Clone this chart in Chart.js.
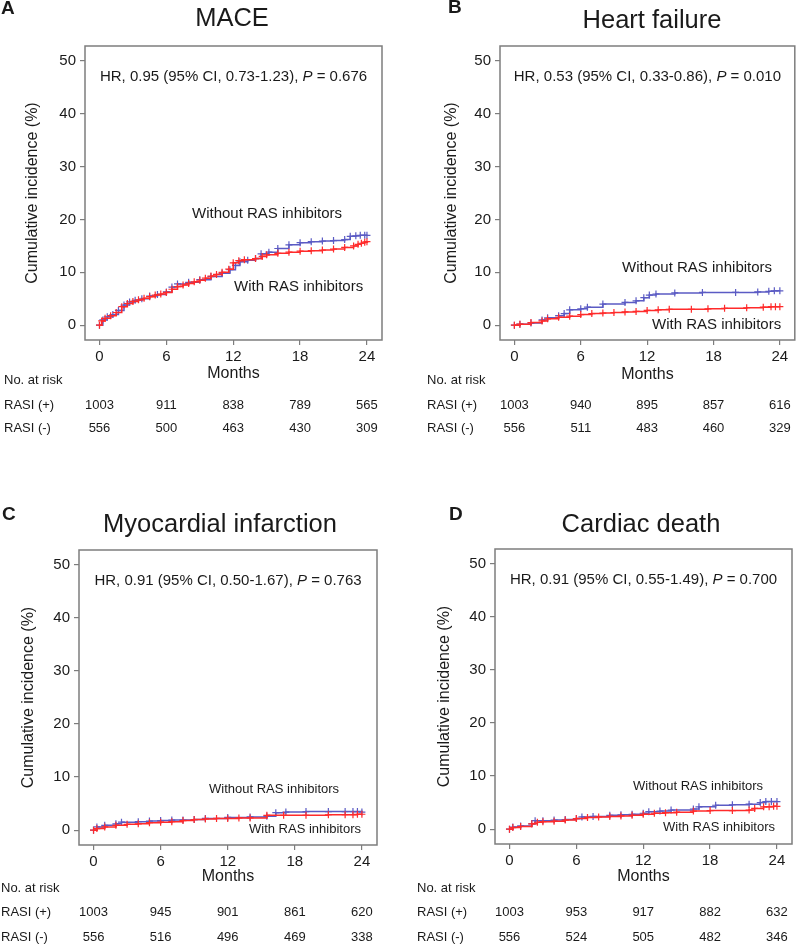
<!DOCTYPE html>
<html>
<head>
<meta charset="utf-8">
<script src="https://cdn.jsdelivr.net/npm/chart.js@4.4.0/dist/chart.umd.min.js"></script>
<style>
  body { margin: 0; background: #fff; width: 800px; height: 944px; position: relative; overflow: hidden; }
  canvas { position: absolute; }
</style>
</head>
<body>
<canvas id="cA" width="400" height="472" style="left:0;top:0"></canvas>
<canvas id="cB" width="400" height="472" style="left:400px;top:0"></canvas>
<canvas id="cC" width="400" height="472" style="left:0;top:472px"></canvas>
<canvas id="cD" width="400" height="472" style="left:400px;top:472px"></canvas>
<script>
// axes
const monthTicks = [0, 6, 12, 18, 24];
const pctTicks = [0, 10, 20, 30, 40, 50];
const riskRows = ["RASI (+)", "RASI (-)"];

// A - MACE  [month, cumulative %]
const maceWith = [[0,0],[0.2,0.8],[0.5,1.3],[1,1.8],[1.5,2.4],[2,3.5],[2.5,4.1],[3,4.5],[3.5,4.8],[4,5.1],[4.5,5.4],[5,5.7],[5.5,5.9],[6,6.2],[6.5,6.8],[7,7.3],[7.5,7.6],[8,7.9],[8.5,8.2],[9,8.5],[9.5,8.9],[10,9.3],[10.5,9.6],[11,10.0],[11.6,10.6],[12,11.8],[12.5,12.2],[13,12.4],[14,12.6],[14.6,13.0],[15,13.3],[16,13.6],[17,13.8],[18,14.0],[19,14.1],[20,14.2],[21,14.4],[22,14.7],[22.8,15.0],[23.2,15.3],[23.5,15.5],[23.8,15.7],[24,15.8]];
const maceWithout = [[0,0],[0.3,1.0],[0.7,1.6],[1.2,2.0],[1.7,2.8],[2.2,3.8],[2.7,4.4],[3.2,4.7],[3.8,5.0],[4.5,5.5],[5.2,5.8],[6,6.3],[6.5,7.2],[7,7.8],[8,8.1],[9,8.6],[10,9.2],[11,9.8],[11.7,10.5],[12.2,11.3],[12.6,12.0],[13.3,12.3],[14,12.6],[14.5,13.5],[15.2,13.8],[16,14.5],[17,15.2],[18,15.6],[19,15.8],[20,15.9],[21,16.0],[22,16.2],[22.5,16.8],[23,16.9],[23.4,17.0],[23.8,17.0],[24,17.0]];
const maceRiskPos = [1003, 911, 838, 789, 565];
const maceRiskNeg = [556, 500, 463, 430, 309];

// B - Heart failure
const hfWith = [[0,0],[0.5,0.2],[1.5,0.5],[2.5,0.8],[3,1.2],[4,1.5],[5,1.7],[6,2.0],[7,2.2],[8,2.3],[9,2.4],[10,2.5],[11,2.6],[12,2.8],[13,2.9],[14,3.0],[16,3.0],[17.5,3.1],[19,3.2],[21,3.3],[22.5,3.4],[23.2,3.5],[23.6,3.5],[24,3.5]];
const hfWithout = [[0,0],[0.5,0.2],[1.5,0.4],[2.5,1.0],[3,1.4],[4,1.8],[4.5,2.2],[5,2.9],[6,3.1],[6.6,3.4],[8,4.0],[10,4.3],[11,4.6],[11.7,5.2],[12.2,5.7],[12.8,5.9],[14.5,6.1],[17,6.2],[20,6.2],[22,6.3],[23,6.4],[23.5,6.5],[24,6.5]];
const hfRiskPos = [1003, 940, 895, 857, 616];
const hfRiskNeg = [556, 511, 483, 460, 329];

// C - Myocardial infarction
const miWith = [[0,0],[0.3,0.3],[1,0.6],[2,0.9],[3,1.1],[4,1.2],[5,1.4],[6,1.5],[7,1.6],[8,1.8],[9,2.0],[10,2.1],[11,2.2],[12,2.2],[13,2.3],[14,2.3],[15.5,2.8],[17,2.8],[19,2.8],[21,2.9],[22.5,2.9],[23.2,2.9],[23.6,3.0],[24,3.0]];
const miWithout = [[0,0],[0.3,0.6],[1,0.9],[2,1.2],[2.5,1.5],[4,1.6],[5,1.7],[6,1.8],[7,1.9],[8,1.9],[9,2.0],[10,2.2],[12,2.4],[14,2.5],[15.5,2.6],[16.3,3.3],[17.2,3.4],[19,3.5],[21,3.5],[22.5,3.5],[23.2,3.5],[23.6,3.5],[24,3.4]];
const miRiskPos = [1003, 945, 901, 861, 620];
const miRiskNeg = [556, 516, 496, 469, 338];

// D - Cardiac death
const cdWith = [[0,0],[0.3,0.3],[1,0.5],[2,1.0],[2.5,1.3],[3,1.4],[4,1.5],[5,1.7],[6,2.0],[7,2.2],[8,2.3],[9,2.4],[10,2.5],[11,2.6],[12,2.8],[13,3.0],[14,3.1],[15,3.2],[16.5,3.4],[18,3.5],[20,3.5],[21.5,3.6],[22,3.9],[22.8,4.2],[23.3,4.2],[23.7,4.3],[24,4.3]];
const cdWithout = [[0,0],[0.3,0.4],[1,0.6],[2,1.0],[2.3,1.6],[3,1.6],[4,1.7],[5,1.8],[6,2.0],[6.5,2.3],[7.5,2.4],[9,2.6],[10,2.7],[11,2.8],[12,3.0],[12.5,3.3],[13.5,3.4],[14.5,3.6],[16.5,3.8],[17,4.2],[18.5,4.5],[20,4.6],[21.5,4.7],[22.5,5.0],[23,5.2],[23.5,5.2],[24,5.2]];
const cdRiskPos = [1003, 953, 917, 882, 632];
const cdRiskNeg = [556, 524, 505, 482, 346];

const FONT = "'Liberation Sans', Arial, sans-serif";
const RED = "#ff2b2b", BLUE = "#5b5bc4", INK = "#1a1a1a";

function txt(ctx, s, x, y, size, align, weight) {
  ctx.font = (weight || "") + " " + size + "px " + FONT;
  ctx.textAlign = align || "left";
  ctx.textBaseline = "middle";
  ctx.fillStyle = INK;
  ctx.fillText(s, x, y);
}

// HR line with italic P, centred
function hrText(ctx, hr, p, cx, y) {
  const a = "HR, " + hr + ", ", b = "P", c = " = " + p;
  ctx.font = "15px " + FONT; const wa = ctx.measureText(a).width, wc = ctx.measureText(c).width;
  ctx.font = "italic 15px " + FONT; const wb = ctx.measureText(b).width;
  let x = cx - (wa + wb + wc) / 2;
  txt(ctx, a, x, y, 15); x += wa;
  txt(ctx, b, x, y, 15, "left", "italic"); x += wb;
  txt(ctx, c, x, y, 15);
}

function makePanel(id, p) {
  const decor = {
    id: "decor" + id,
    afterDraw(chart) {
      const ctx = chart.ctx, a = chart.chartArea, xs = chart.scales.x;
      ctx.save();
      ctx.strokeStyle = "#7d7d7d"; ctx.lineWidth = 1.5;
      ctx.strokeRect(a.left, a.top, a.right - a.left, a.bottom - a.top);
      txt(ctx, p.letter, p.letterX, p.letterY, 19, "left", "bold");
      txt(ctx, p.title, p.titleX, p.titleY, 25.5, "center");
      hrText(ctx, p.hr, p.p, (a.left + a.right) / 2, a.top + 31);
      txt(ctx, "Without RAS inhibitors", p.woX, p.woY, p.lblSize);
      txt(ctx, "With RAS inhibitors", p.wX, p.wY, p.lblSize);
      txt(ctx, "Months", (a.left + a.right) / 2, p.monthsY, 16, "center");
      ctx.save();
      ctx.translate(p.yTitleX, (a.top + a.bottom) / 2);
      ctx.rotate(-Math.PI / 2);
      txt(ctx, "Cumulative incidence (%)", 0, 0, 16, "center");
      ctx.restore();
      txt(ctx, "No. at risk", p.riskX, p.riskY[0], 13);
      [p.riskPos, p.riskNeg].forEach((row, r) => {
        txt(ctx, riskRows[r], p.riskX, p.riskY[r + 1], 13);
        row.forEach((n, i) => txt(ctx, String(n), xs.getPixelForValue(monthTicks[i]), p.riskY[r + 1], 13, "center"));
      });
      ctx.restore();
    }
  };
  const line = (label, data, color) => ({
    label, data, borderColor: color, backgroundColor: color,
    borderWidth: 1.5, stepped: true, pointStyle: "cross",
    pointRadius: 3.5, pointBorderWidth: 1.2, pointBorderColor: color
  });
  return new Chart(document.getElementById(id), {
    type: "line",
    data: { datasets: [line("With RAS inhibitors", p.withData, RED), line("Without RAS inhibitors", p.withoutData, BLUE)] },
    options: {
      responsive: false, animation: false,
      layout: { padding: { left: p.area.l - 40, top: p.area.t, right: 400 - p.area.r, bottom: 472 - p.area.b - 40 } },
      plugins: { legend: { display: false }, tooltip: { enabled: false } },
      scales: {
        x: {
          type: "linear", min: -1.3, max: 25.35,
          afterBuildTicks: s => { s.ticks = monthTicks.map(v => ({ value: v })); },
          afterFit: s => { s.height = 40; },
          grid: { drawOnChartArea: false, tickLength: 5, color: "#7d7d7d", lineWidth: 1.2 },
          border: { display: false },
          ticks: { color: INK, font: { family: FONT, size: 15 }, padding: 3, maxRotation: 0 }
        },
        y: {
          min: -2.8, max: 52.8,
          afterBuildTicks: s => { s.ticks = pctTicks.map(v => ({ value: v })); },
          afterFit: s => { s.width = 40; },
          grid: { drawOnChartArea: false, tickLength: 5, color: "#7d7d7d", lineWidth: 1.2 },
          border: { display: false },
          ticks: { color: INK, font: { family: FONT, size: 15 }, padding: 4 }
        }
      }
    },
    plugins: [decor]
  });
}

makePanel("cA", {
  letter: "A", letterX: 1, letterY: 9, title: "MACE", titleX: 232, titleY: 19,
  hr: "0.95 (95% CI, 0.73-1.23)", p: "0.676",
  area: { l: 85, r: 382, t: 46, b: 340 }, yTitleX: 33, monthsY: 374,
  woX: 192, woY: 214, wX: 234, wY: 287, lblSize: 15,
  riskX: 4, riskY: [380, 405, 428],
  withData: maceWith, withoutData: maceWithout, riskPos: maceRiskPos, riskNeg: maceRiskNeg
});
makePanel("cB", {
  letter: "B", letterX: 48, letterY: 8, title: "Heart failure", titleX: 252, titleY: 21,
  hr: "0.53 (95% CI, 0.33-0.86)", p: "0.010",
  area: { l: 100, r: 398, t: 46, b: 340 }, yTitleX: 52, monthsY: 375,
  woX: 222, woY: 268, wX: 252, wY: 325, lblSize: 15,
  riskX: 27, riskY: [380, 405, 428],
  withData: hfWith, withoutData: hfWithout, riskPos: hfRiskPos, riskNeg: hfRiskNeg
});
makePanel("cC", {
  letter: "C", letterX: 2, letterY: 43, title: "Myocardial infarction", titleX: 220, titleY: 53,
  hr: "0.91 (95% CI, 0.50-1.67)", p: "0.763",
  area: { l: 79, r: 377, t: 78, b: 373 }, yTitleX: 29, monthsY: 405,
  woX: 209, woY: 317, wX: 249, wY: 357, lblSize: 13,
  riskX: 1, riskY: [416, 440, 465],
  withData: miWith, withoutData: miWithout, riskPos: miRiskPos, riskNeg: miRiskNeg
});
makePanel("cD", {
  letter: "D", letterX: 49, letterY: 43, title: "Cardiac death", titleX: 241, titleY: 53,
  hr: "0.91 (95% CI, 0.55-1.49)", p: "0.700",
  area: { l: 95, r: 392, t: 77, b: 372 }, yTitleX: 45, monthsY: 405,
  woX: 233, woY: 314, wX: 263, wY: 355, lblSize: 13,
  riskX: 17, riskY: [416, 440, 465],
  withData: cdWith, withoutData: cdWithout, riskPos: cdRiskPos, riskNeg: cdRiskNeg
});
</script>
</body>
</html>
